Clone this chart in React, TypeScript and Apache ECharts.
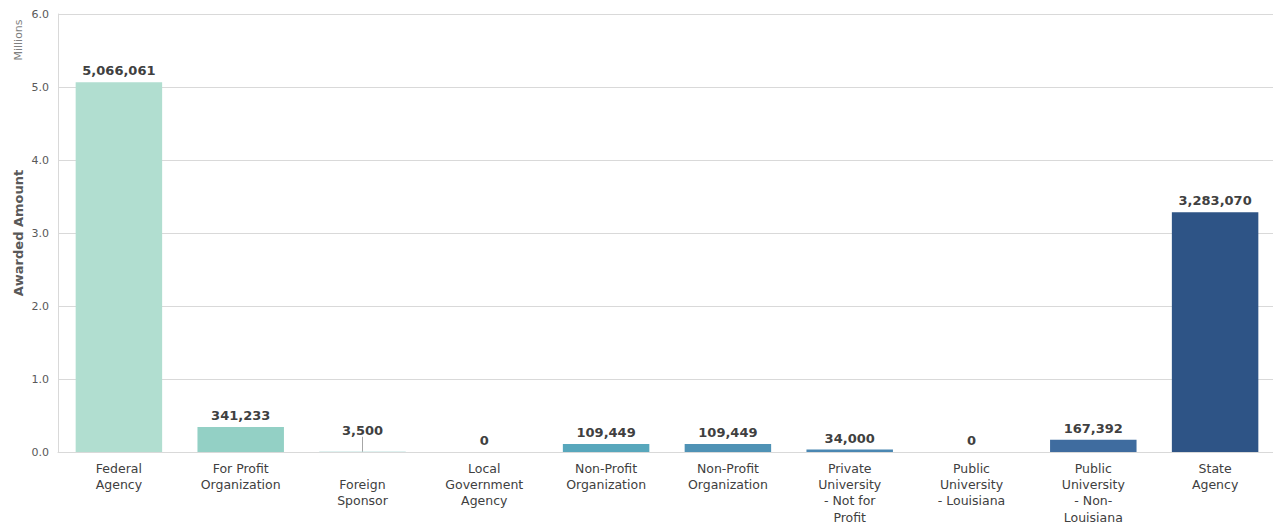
import React, { useEffect, useRef } from "react";
import * as echarts from "echarts";

const categories = [
  "Federal\nAgency",
  "For Profit\nOrganization",
  "Foreign\nSponsor",
  "Local\nGovernment\nAgency",
  "Non-Profit\nOrganization",
  "Non-Profit\nOrganization",
  "Private\nUniversity\n- Not for\nProfit",
  "Public\nUniversity\n- Louisiana",
  "Public\nUniversity\n- Non-\nLouisiana",
  "State\nAgency",
];
const awarded = [5066061, 341233, 3500, 0, 109449, 109449, 34000, 0, 167392, 3283070];
const barColors = [
  "#b1ded0",
  "#93d0c5",
  "#7fc6c3",
  "#6ab6c3",
  "#58a7bc",
  "#4f92b5",
  "#4a87b2",
  "#4478aa",
  "#3f6c9f",
  "#2e5486",
];
const yTicks = [0, 1, 2, 3, 4, 5, 6];

export default function App() {
  const ref = useRef<HTMLDivElement>(null);
  useEffect(() => {
    if (!ref.current) return;
    const chart = echarts.init(ref.current, undefined, { renderer: "svg" });
    const font = "Verdana, 'DejaVu Sans', sans-serif";
    chart.setOption({
      animation: false,
      textStyle: { fontFamily: font },
      grid: {
        left: 58,
        width: 1218,
        top: 14,
        bottom: 73,
        containLabel: false,
        outerBoundsMode: "none",
      },
      graphic: [
        {
          type: "text",
          x: 18,
          y: 40,
          rotation: Math.PI / 2,
          style: {
            text: "Millions",
            font: `11px ${font}`,
            fill: "#7f7f7f",
            align: "center",
            verticalAlign: "middle",
          },
        },
      ],
      xAxis: {
        type: "category",
        data: categories.map((c, i) =>
          i === 2 ? { value: c, textStyle: { padding: [16, 0, 0, 0] } } : c
        ),
        axisLine: { show: true, lineStyle: { color: "#d9d9d9" } },
        axisTick: { show: false },
        axisLabel: {
          interval: 0,
          color: "#404040",
          fontSize: 12.5,
          lineHeight: 16.3,
          margin: 8,
          fontFamily: font,
        },
      },
      yAxis: {
        type: "value",
        min: 0,
        max: 6,
        interval: 1,
        name: "Awarded Amount",
        nameLocation: "middle",
        nameGap: 33,
        nameMoveOverlap: false,
        nameTextStyle: { fontSize: 13, fontWeight: "bold", color: "#595959", fontFamily: font },
        axisLine: { show: true, lineStyle: { color: "#d9d9d9" } },
        splitLine: { lineStyle: { color: "#d9d9d9" } },
        axisLabel: {
          color: "#595959",
          fontSize: 11,
          margin: 9,
          fontFamily: font,
          formatter: (v: number) => (yTicks.includes(v) ? v.toFixed(1) : ""),
        },
      },
      series: [
        {
          type: "bar",
          barCategoryGap: "29%",
          data: awarded.map((v, i) => ({
            value: v / 1e6,
            itemStyle: { color: barColors[i] },
            labelLine: i === 2 ? { show: true, lineStyle: { color: "#a6a6a6", width: 1 } } : undefined,
          })),
          label: {
            show: true,
            position: "top",
            distance: 5,
            color: "#404040",
            fontSize: 13,
            fontWeight: "bold",
            fontFamily: font,
            formatter: (p: any) => awarded[p.dataIndex].toLocaleString("en-US"),
          },
          labelLayout: (p: any) => (p.dataIndex === 2 ? { dy: -10 } : {}),
        },
      ],
    });
    return () => chart.dispose();
  }, []);
  return (
    <div
      ref={ref}
      style={{ position: "fixed", left: 0, top: 0, width: 1273, height: 525, background: "#fff" }}
    />
  );
}
